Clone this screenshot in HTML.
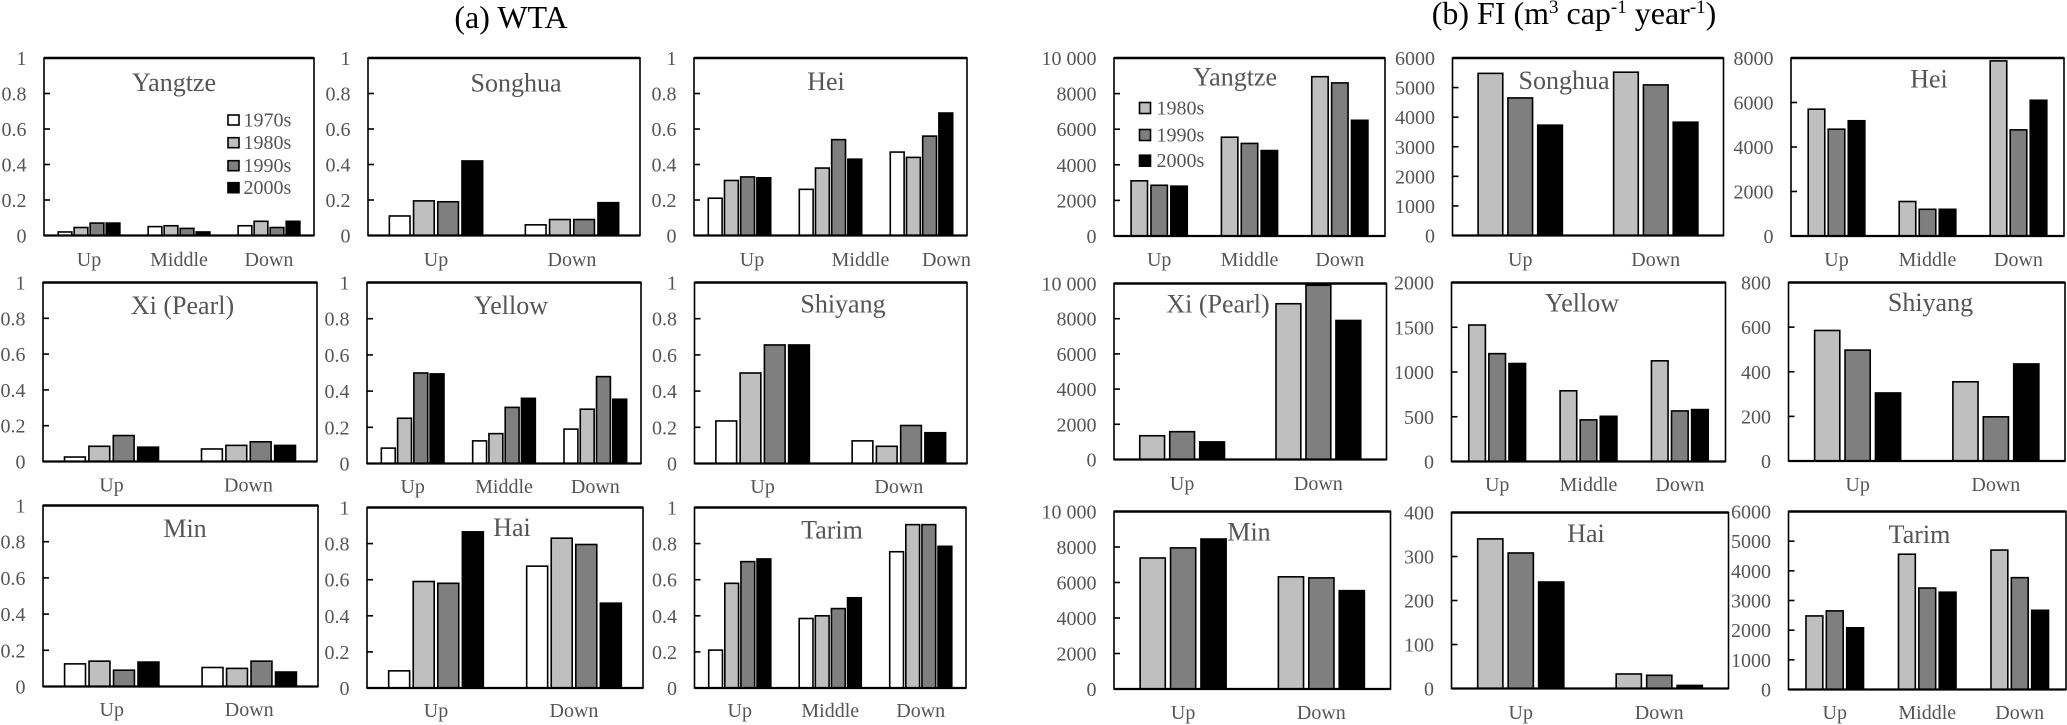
<!DOCTYPE html>
<html lang="en">
<head>
<meta charset="utf-8">
<title>WTA and FI by river basin</title>
<style>
  html, body { margin: 0; padding: 0; background: #fff; }
  #chart { display: block; width: 2067px; height: 725px; font-family: "Liberation Serif", serif; }
  .tick-label, .cat-label, .panel-title, .legend-label { fill: #555; }
  .tick-label, .cat-label, .legend-label { font-size: 20px; }
  .panel-title { font-size: 26px; text-anchor: middle; }
  .main-title { font-size: 32px; fill: #000; text-anchor: middle; }
</style>
</head>
<body>
<svg id="chart" xmlns="http://www.w3.org/2000/svg" width="2067" height="725" viewBox="0 0 2067 725">
  <text class="main-title" x="511" y="28">(a) WTA</text>
  <text class="main-title" x="1574" y="24">(b) FI (m<tspan font-size="19" dy="-11">3</tspan><tspan dy="11"> cap</tspan><tspan font-size="19" dy="-11">-1</tspan><tspan dy="11"> year</tspan><tspan font-size="19" dy="-11">-1</tspan><tspan dy="11">)</tspan></text>
</svg>
<script>
// ---- Data ----
const categories3 = ["Up", "Middle", "Down"];
const categories2 = ["Up", "Down"];
const wtaSeries = ["1970s", "1980s", "1990s", "2000s"];
const fiSeries = ["1980s", "1990s", "2000s"];

const wtaTicks = [0, 0.2, 0.4, 0.6, 0.8, 1];
const wtaTickLabels = ["0", "0.2", "0.4", "0.6", "0.8", "1"];
const fi10000Ticks = [0, 2000, 4000, 6000, 8000, 10000];
const fi10000TickLabels = ["0", "2000", "4000", "6000", "8000", "10 000"];
const fi6000Ticks = [0, 1000, 2000, 3000, 4000, 5000, 6000];
const fi6000TickLabels = ["0", "1000", "2000", "3000", "4000", "5000", "6000"];
const fi8000Ticks = [0, 2000, 4000, 6000, 8000];
const fi8000TickLabels = ["0", "2000", "4000", "6000", "8000"];
const fi2000Ticks = [0, 500, 1000, 1500, 2000];
const fi2000TickLabels = ["0", "500", "1000", "1500", "2000"];
const fi800Ticks = [0, 200, 400, 600, 800];
const fi800TickLabels = ["0", "200", "400", "600", "800"];
const fi400Ticks = [0, 100, 200, 300, 400];
const fi400TickLabels = ["0", "100", "200", "300", "400"];

const wtaYangtze = [[0.02, 0.045, 0.07, 0.07], [0.05, 0.055, 0.04, 0.02], [0.055, 0.08, 0.045, 0.08]];
const wtaSonghua = [[0.11, 0.195, 0.19, 0.42], [0.06, 0.09, 0.09, 0.185]];
const wtaHei = [[0.21, 0.31, 0.33, 0.325], [0.26, 0.38, 0.54, 0.43], [0.47, 0.44, 0.56, 0.69]];
const wtaXi = [[0.025, 0.085, 0.145, 0.08], [0.07, 0.09, 0.11, 0.09]];
const wtaYellow = [[0.085, 0.25, 0.5, 0.495], [0.125, 0.165, 0.31, 0.36], [0.19, 0.3, 0.48, 0.355]];
const wtaShiyang = [[0.235, 0.5, 0.655, 0.655], [0.125, 0.095, 0.21, 0.17]];
const wtaMin = [[0.125, 0.14, 0.09, 0.135], [0.105, 0.1, 0.14, 0.08]];
const wtaHai = [[0.095, 0.59, 0.58, 0.865], [0.675, 0.83, 0.795, 0.47]];
const wtaTarim = [[0.21, 0.58, 0.7, 0.715], [0.385, 0.4, 0.44, 0.5], [0.755, 0.905, 0.905, 0.785]];

const fiYangtze = [[3100, 2850, 2800], [5550, 5200, 4800], [8950, 8600, 6500]];
const fiSonghua = [[5480, 4650, 3730], [5520, 5090, 3830]];
const fiHei = [[5700, 4800, 5180], [1550, 1200, 1200], [7870, 4770, 6100]];
const fiXi = [[1350, 1580, 1000], [8850, 9900, 7900]];
const fiYellow = [[1525, 1205, 1095], [790, 465, 505], [1125, 565, 580]];
const fiShiyang = [[585, 497, 305], [355, 198, 435]];
const fiMin = [[7380, 7950, 8450], [6320, 6260, 5540]];
const fiHai = [[340, 308, 242], [33, 30, 7]];
const fiTarim = [[2480, 2650, 2080], [4560, 3420, 3280], [4700, 3770, 2670]];

// ---- Layout ----
const wtaColors = ["#ffffff", "#bfbfbf", "#7f7f7f", "#000000"];
const fiColors = ["#bfbfbf", "#7f7f7f", "#000000"];
const wtaBars = { pitch: 0.178, width: 0.152 };
const fiBars = { pitch: 0.22, width: 0.182 };

const panels = [
  { id: "wta-yangtze", title: "Yangtze", v: wtaYangtze, c: categories3, t: wtaTicks, l: wtaTickLabels, x0: 44, x1: 314, y0: 58, y1: 235.5, tx: 174, ty: 91, ly: 266 },
  { id: "wta-songhua", title: "Songhua", v: wtaSonghua, c: categories2, t: wtaTicks, l: wtaTickLabels, x0: 368, x1: 640, y0: 58, y1: 235.5, tx: 516, ty: 91.5, ly: 266 },
  { id: "wta-hei", title: "Hei", v: wtaHei, c: categories3, t: wtaTicks, l: wtaTickLabels, x0: 694, x1: 967, y0: 58, y1: 235.5, tx: 826, ty: 90, ly: 266, lx: [752, 860.5, 946.5] },
  { id: "wta-xi", title: "Xi (Pearl)", v: wtaXi, c: categories2, t: wtaTicks, l: wtaTickLabels, x0: 43, x1: 317, y0: 282.5, y1: 461.5, tx: 182.5, ty: 314, ly: 491.5 },
  { id: "wta-yellow", title: "Yellow", v: wtaYellow, c: categories3, t: wtaTicks, l: wtaTickLabels, x0: 367, x1: 641, y0: 282.5, y1: 463.5, tx: 511, ty: 314, ly: 493 },
  { id: "wta-shiyang", title: "Shiyang", v: wtaShiyang, c: categories2, t: wtaTicks, l: wtaTickLabels, x0: 694.5, x1: 967, y0: 282.5, y1: 463.5, tx: 843, ty: 312.5, ly: 493 },
  { id: "wta-min", title: "Min", v: wtaMin, c: categories2, t: wtaTicks, l: wtaTickLabels, x0: 43, x1: 318, y0: 505.5, y1: 686.5, tx: 185, ty: 537, ly: 716 },
  { id: "wta-hai", title: "Hai", v: wtaHai, c: categories2, t: wtaTicks, l: wtaTickLabels, x0: 367, x1: 643, y0: 507.5, y1: 688, tx: 512, ty: 536, ly: 717 },
  { id: "wta-tarim", title: "Tarim", v: wtaTarim, c: categories3, t: wtaTicks, l: wtaTickLabels, x0: 694.5, x1: 966, y0: 507.5, y1: 688, tx: 832, ty: 538.5, ly: 717 },

  { id: "fi-yangtze", title: "Yangtze", v: fiYangtze, c: categories3, t: fi10000Ticks, l: fi10000TickLabels, x0: 1114, x1: 1385, y0: 58, y1: 236, tx: 1235, ty: 85.5, ly: 266 },
  { id: "fi-songhua", title: "Songhua", v: fiSonghua, c: categories2, t: fi6000Ticks, l: fi6000TickLabels, x0: 1452.5, x1: 1723.5, y0: 58, y1: 235.5, tx: 1564, ty: 89, ly: 266 },
  { id: "fi-hei", title: "Hei", v: fiHei, c: categories3, t: fi8000Ticks, l: fi8000TickLabels, x0: 1791, x1: 2064, y0: 58, y1: 236, tx: 1929, ty: 87.5, ly: 266 },
  { id: "fi-xi", title: "Xi (Pearl)", v: fiXi, c: categories2, t: fi10000Ticks, l: fi10000TickLabels, x0: 1114, x1: 1386.5, y0: 283.5, y1: 459.5, tx: 1218, ty: 312.5, ly: 490 },
  { id: "fi-yellow", title: "Yellow", v: fiYellow, c: categories3, t: fi2000Ticks, l: fi2000TickLabels, x0: 1451.5, x1: 1725.5, y0: 282.5, y1: 461.5, tx: 1582, ty: 311.5, ly: 491 },
  { id: "fi-shiyang", title: "Shiyang", v: fiShiyang, c: categories2, t: fi800Ticks, l: fi800TickLabels, x0: 1788.5, x1: 2065, y0: 282.5, y1: 461, tx: 1930.5, ty: 311, ly: 491 },
  { id: "fi-min", title: "Min", v: fiMin, c: categories2, t: fi10000Ticks, l: fi10000TickLabels, x0: 1114, x1: 1390.5, y0: 511.5, y1: 689, tx: 1249, ty: 540.5, ly: 719 },
  { id: "fi-hai", title: "Hai", v: fiHai, c: categories2, t: fi400Ticks, l: fi400TickLabels, x0: 1451.5, x1: 1728.5, y0: 512.5, y1: 688.5, tx: 1586, ty: 542, ly: 719 },
  { id: "fi-tarim", title: "Tarim", v: fiTarim, c: categories3, t: fi6000Ticks, l: fi6000TickLabels, x0: 1788.5, x1: 2066, y0: 511.5, y1: 689.5, tx: 1919.5, ty: 543, ly: 719 }
];

// ---- Drawing ----
const svg = document.getElementById("chart");
const NS = "http://www.w3.org/2000/svg";

function make(tag, parent, props, text) {
  const el = document.createElementNS(NS, tag);
  for (const k in props) el.setAttribute(k, props[k]);
  if (text !== undefined) el.textContent = text;
  parent.appendChild(el);
  return el;
}

function yAxisScale(p) {
  const max = p.t[p.t.length - 1];
  return function (value) { return p.y1 - (value / max) * (p.y1 - p.y0); };
}

function xAxisScale(p) {
  const groupW = (p.x1 - p.x0) / p.c.length;
  return function (groupIndex) { return p.x0 + groupW * (groupIndex + 0.5); };
}

function drawPanel(p) {
  const isWta = p.id.indexOf("wta") === 0;
  const colors = isWta ? wtaColors : fiColors;
  const series = isWta ? wtaSeries : fiSeries;
  const bars = isWta ? wtaBars : fiBars;
  const y = yAxisScale(p);
  const x = xAxisScale(p);
  const groupW = (p.x1 - p.x0) / p.c.length;

  const g = make("g", svg, {});
  
  

  const frame = make("rect", g, { x: p.x0, y: p.y0, width: p.x1 - p.x0, height: p.y1 - p.y0, fill: "#fff", stroke: "#000", "stroke-width": 1.6 });
  
  

  const topEdge = make("line", g, { x1: p.x0, x2: p.x1, y1: p.y0, y2: p.y0, stroke: "#000", "stroke-width": 2.4 });
  
  

  p.t.forEach(function (tickValue, i) {
    const ty = y(tickValue);
    if (i > 0 && i < p.t.length - 1) {
      const tick = make("line", g, { x1: p.x0, x2: p.x0 + 6, y1: ty, y2: ty, stroke: "#000", "stroke-width": 1.6 });
      
      
    }
    const label = make("text", g, { class: "tick-label", x: p.x0 - 17.5, y: ty + 7, "text-anchor": "end" }, p.l[i]);
    
    
  });

  p.v.forEach(function (group, gi) {
    const cx = x(gi);
    group.forEach(function (value, si) {
      const barX = cx + (si - (group.length - 1) / 2) * bars.pitch * groupW - bars.width * groupW / 2;
      const bar = make("rect", g, { x: barX, y: y(value), width: bars.width * groupW, height: Math.max(0, p.y1 - y(value)), fill: colors[si], stroke: "#000", "stroke-width": 1.6 });
      
      
    });
    const catX = p.lx ? p.lx[gi] : cx;
    const cat = make("text", g, { class: "cat-label", x: catX, y: p.ly, "text-anchor": "middle" }, p.c[gi]);
    
    
  });

  const axis = make("line", g, { x1: p.x0, x2: p.x1, y1: p.y1, y2: p.y1, stroke: "#000", "stroke-width": 2.2 });
  
  

  const title = make("text", g, { class: "panel-title", x: p.tx, y: p.ty }, p.title);
  
  
}

panels.forEach(drawPanel);

function drawLegend(names, colors, swatchX, swatchW, swatchH, textX, rowY, prefix) {
  const g = make("g", svg, {});
  
  
  names.forEach(function (name, i) {
    const swatch = make("rect", g, { x: swatchX, y: rowY[i] - swatchH / 2, width: swatchW, height: swatchH, fill: colors[i], stroke: "#000", "stroke-width": 1.6 });
    
    
    const label = make("text", g, { class: "legend-label", x: textX, y: rowY[i] + 6.5 }, name);
    
    
  });
}

drawLegend(wtaSeries, wtaColors, 228, 11, 10, 243.5, [120, 142.7, 165.7, 187.7], "wta");
drawLegend(fiSeries, fiColors, 1139.5, 11, 11, 1156.5, [108, 135, 160.7], "fi");
</script>
</body>
</html>
